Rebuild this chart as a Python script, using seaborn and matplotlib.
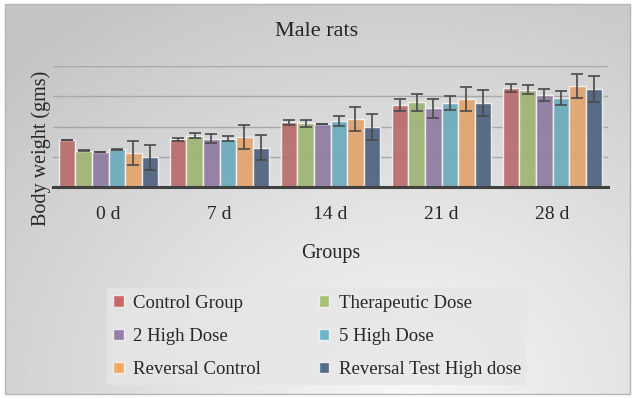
import numpy as np
import pandas as pd
import matplotlib
matplotlib.use("Agg")
import matplotlib.pyplot as plt
from matplotlib.patches import Patch, Rectangle
import seaborn as sns

# Data (gridlines are every 50 units, no tick labels shown)
days = ["0 d", "7 d", "14 d", "21 d", "28 d"]
groups = ["Control Group", "Therapeutic Dose", "2 High Dose",
          "5 High Dose", "Reversal Control", "Reversal Test High dose"]

control = [78, 79, 107, 136, 164]
therapeutic = [60, 85, 105, 140, 161]
high2 = [58, 80, 104, 130, 152]
high5 = [62, 80, 109, 139, 147]
reversal_ctrl = [56, 82, 112, 145, 167]
reversal_test = [49, 65, 99, 139, 162]

control_err = [0.5, 2.5, 4, 10, 7]
therapeutic_err = [0.5, 3.5, 5, 14, 8]
high2_err = [0.5, 7, 0.5, 16, 10]
high5_err = [0.5, 4, 8, 11, 11]
reversal_ctrl_err = [20, 20, 20, 20, 20]
reversal_test_err = [21, 21, 21, 21, 21]

values = [control, therapeutic, high2, high5, reversal_ctrl, reversal_test]
errors = [control_err, therapeutic_err, high2_err, high5_err,
          reversal_ctrl_err, reversal_test_err]

colors = ["#c65f5e", "#a3be6a", "#8f75a8", "#5fb2c8", "#f6a359", "#466086"]

df = pd.DataFrame({
  "day": np.tile(days, len(groups)),
  "group": np.repeat(groups, len(days)),
  "weight": np.concatenate(values),
  "err": np.concatenate(errors),
})

sns.set_style("white")
plt.rcParams["font.family"] = ["Liberation Serif", "DejaVu Serif"]

fig = plt.figure(figsize=(6.34, 3.98), dpi=100)
fig.patch.set_facecolor("white")

# gradient background panel
bg = fig.add_axes([0, 0, 1, 1], zorder=-10)
yy, xx = np.mgrid[0:1:200j, 0:1:300j]
r = np.sqrt(((xx - 0.65) / 0.85) ** 2 + ((yy - 0.0) / 1.15) ** 2)
grad = 0.97 - 0.19 * np.clip(r, 0, 1.05)
bg.imshow(grad, cmap="gray", vmin=0, vmax=1, aspect="auto",
          extent=[5 / 634, 630 / 634, 4 / 398, 394 / 398], origin="upper")
bg.add_patch(Rectangle((5 / 634, 4 / 398), 625 / 634, 390 / 398, fill=False,
                       edgecolor="#b5b5b5", lw=1))
bg.set_xlim(0, 1)
bg.set_ylim(1, 0)
bg.axis("off")

ax = fig.add_axes([53 / 634, 1 - 187 / 398, 555 / 634, 121 / 398])
ax.patch.set_alpha(0)

sns.barplot(data=df, x="day", y="weight", hue="group", palette=colors,
            errorbar=None, width=0.9, alpha=0.92, edgecolor="#f4f4f4",
            linewidth=1, legend=False, ax=ax, zorder=2)

# error bars at the bar centres
bars = [p for p in ax.patches]
for i, g in enumerate(groups):
  for j, d in enumerate(days):
    p = bars[i * len(days) + j]
    xc = p.get_x() + p.get_width() / 2
    ax.errorbar(xc, values[i][j], yerr=errors[i][j], color="#4a4a4a",
                capsize=4, elinewidth=1.2, capthick=1.2, zorder=3)

ax.set_ylim(0, 200)
ax.set_yticks([0, 50, 100, 150, 200])
ax.set_yticklabels([])
ax.yaxis.grid(True, color="#a8a8a8", lw=1, zorder=0)
ax.set_axisbelow(True)
ax.tick_params(axis="both", length=0)
ax.tick_params(axis="x", labelsize=14, pad=14)
for s in ["top", "right", "left"]:
  ax.spines[s].set_visible(False)
ax.spines["bottom"].set_color("#404040")
ax.spines["bottom"].set_linewidth(2.2)
ax.set_xlim(-0.5, 4.5)

ax.set_xlabel("Groups", fontsize=14.5)
ax.xaxis.set_label_coords(0.5, -0.47)
ax.set_ylabel("Body weight (gms)", fontsize=14.5)
ax.yaxis.set_label_coords(-0.003, 0.32)

fig.text(317 / 634, 1 - 32 / 398, "Male rats", ha="center", va="center",
         fontsize=16)

# legend filled row by row like the original
order = [0, 2, 4, 1, 3, 5]
handles = [Patch(facecolor=colors[k], edgecolor="#f2f2f2", alpha=0.92) for k in order]
labels = [groups[k] for k in order]
leg = fig.legend(handles, labels, ncol=2, loc="center",
                 bbox_to_anchor=(317 / 634, 1 - 336.5 / 398), fontsize=13.5,
                 frameon=True, handlelength=0.55, handleheight=0.55,
                 handletextpad=0.5, columnspacing=3.1, labelspacing=0.87,
                 borderpad=0.35, fancybox=False)
leg.get_frame().set_facecolor("#e6e6e6")
leg.get_frame().set_edgecolor("none")
fig.savefig("out.png", dpi=100)
